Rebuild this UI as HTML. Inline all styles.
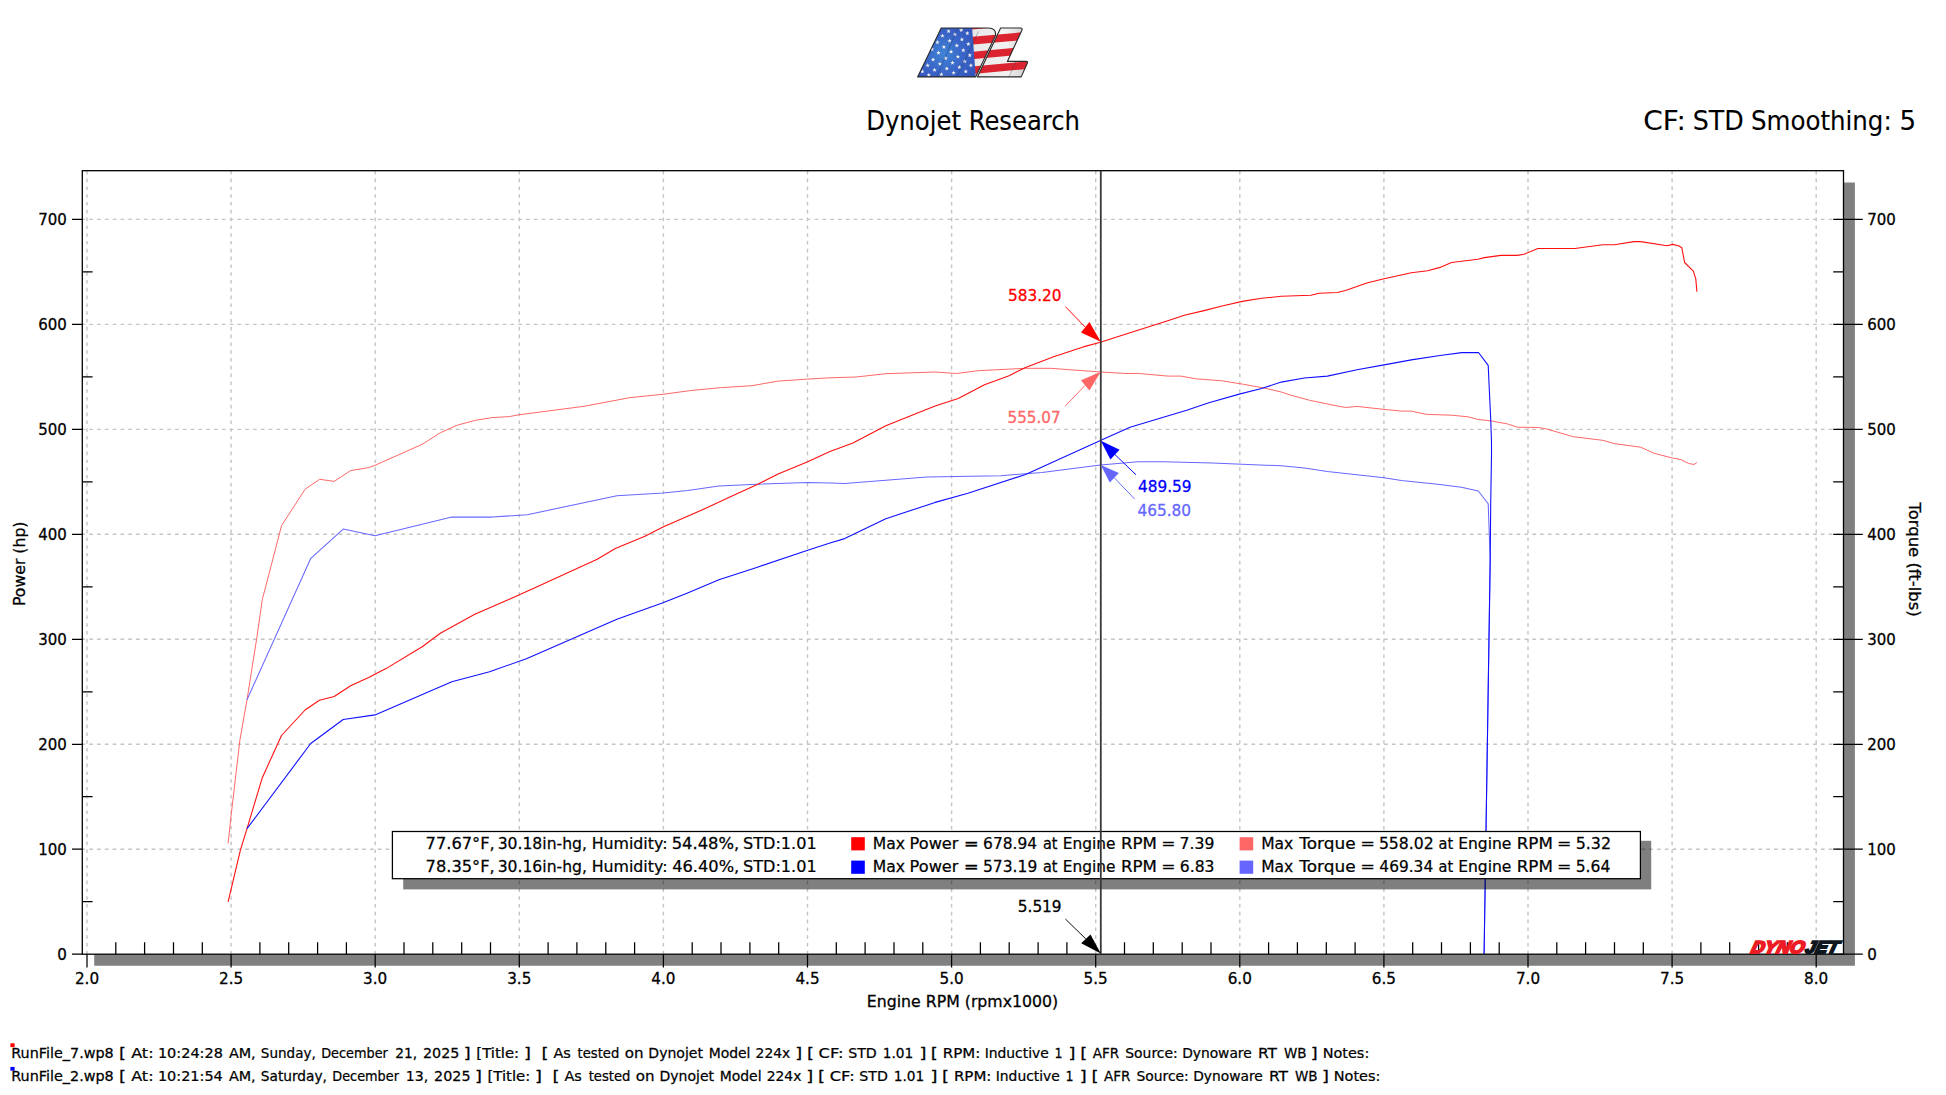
<!DOCTYPE html>
<html lang="en"><head><meta charset="utf-8"><title>Dynojet Research</title>
<style>html,body{margin:0;padding:0;background:#fff;overflow:hidden}svg{display:block}text{font-family:'DejaVu Sans','Liberation Sans',sans-serif;white-space:pre;font-variant-ligatures:none;font-kerning:normal}</style></head><body>
<svg width="1946" height="1095" viewBox="0 0 1946 1095">
<rect width="1946" height="1095" fill="#fff"/>
<defs>
<clipPath id="lc"><path d="M941.2 28 H988.2 Q996.4 28.2 995.6 35.2 L975.6 76.9 H917.6 Z"/><path d="M1000.6 28 H1020.6 Q1022.8 28.2 1021.8 30.4 L1007.4 61.4 H1026.6 Q1028 61.6 1027.4 63 L1021.2 76.9 H977.4 Z"/></clipPath>
<radialGradient id="bg" gradientUnits="userSpaceOnUse" cx="944" cy="54" r="34"><stop offset="0" stop-color="#3f84d4"/><stop offset="0.55" stop-color="#3a66c8"/><stop offset="1" stop-color="#3557bd"/></radialGradient>
<linearGradient id="wg" x1="0" y1="0" x2="1" y2="0"><stop offset="0" stop-color="#f0f0f0"/><stop offset="0.45" stop-color="#e6e6e6"/><stop offset="0.8" stop-color="#f2f2f2"/><stop offset="1" stop-color="#c8c8c8"/></linearGradient>
<polygon id="st" points="0.00,-2.30 0.56,-0.77 2.19,-0.71 0.90,0.29 1.35,1.86 0.00,0.95 -1.35,1.86 -0.90,0.29 -2.19,-0.71 -0.56,-0.77" fill="#f1f1ee"/>
</defs>
<g clip-path="url(#lc)">
<rect x="915" y="26" width="115" height="53" fill="url(#wg)"/>
<g transform="rotate(-5.2 983 52)" fill="#dc2430">
<rect x="960" y="21.0" width="80" height="7.6"/>
<rect x="960" y="35.9" width="80" height="7.7"/>
<rect x="960" y="50.8" width="80" height="7.4"/>
<rect x="960" y="65.4" width="80" height="7.5"/>
<rect x="960" y="80" width="80" height="8.0"/>
</g>
<path d="M910 26 H972 L975.8 78 H910 Z" fill="url(#bg)"/>
<use href="#st" x="948.6" y="31.2"/>
<use href="#st" x="961.2" y="30.1"/>
<use href="#st" x="967.3" y="33.3"/>
<use href="#st" x="942.4" y="35.9"/>
<use href="#st" x="955.0" y="34.4"/>
<use href="#st" x="937.4" y="42.3"/>
<use href="#st" x="949.6" y="40.9"/>
<use href="#st" x="961.9" y="39.5"/>
<use href="#st" x="968.3" y="44.1"/>
<use href="#st" x="943.9" y="47.0"/>
<use href="#st" x="956.8" y="45.6"/>
<use href="#st" x="963.3" y="50.3"/>
<use href="#st" x="938.5" y="52.8"/>
<use href="#st" x="951.1" y="51.7"/>
<use href="#st" x="969.8" y="55.3"/>
<use href="#st" x="957.9" y="56.7"/>
<use href="#st" x="945.7" y="58.2"/>
<use href="#st" x="933.1" y="59.6"/>
<use href="#st" x="964.7" y="61.4"/>
<use href="#st" x="952.5" y="62.8"/>
<use href="#st" x="939.9" y="63.9"/>
<use href="#st" x="927.7" y="65.4"/>
<use href="#st" x="970.9" y="65.4"/>
<use href="#st" x="959.4" y="67.2"/>
<use href="#st" x="946.8" y="68.6"/>
<use href="#st" x="934.5" y="70.0"/>
<use href="#st" x="922.3" y="71.5"/>
<use href="#st" x="965.8" y="71.5"/>
<use href="#st" x="953.6" y="72.9"/>
<use href="#st" x="941.4" y="74.4"/>
<use href="#st" x="928.8" y="75.1"/>
<use href="#st" x="932.0" y="49.2"/>
<path d="M957.8 28 L936.6 77 M978.4 31.5 L956.8 77" stroke="#1a2a5a" stroke-opacity="0.55" stroke-width="0.6" fill="none"/>
<path d="M1016 61.4 L1009 77" stroke="#333" stroke-opacity="0.5" stroke-width="0.6" fill="none"/>
</g>
<path d="M941.2 28 H988.2 Q996.4 28.2 995.6 35.2 L975.6 76.9 H917.6 Z" fill="none" stroke="#2a2a2a" stroke-width="1.1" stroke-linejoin="round"/>
<path d="M1000.6 28 H1020.6 Q1022.8 28.2 1021.8 30.4 L1007.4 61.4 H1026.6 Q1028 61.6 1027.4 63 L1021.2 76.9 H977.4 Z" fill="none" stroke="#2a2a2a" stroke-width="1.1" stroke-linejoin="round"/>
<text transform="translate(866.13,130.0) scale(0.937,1)" font-size="26.0" fill="#000" stroke="#000" stroke-width="0.1">Dynojet</text>
<text transform="translate(968.63,130.0) scale(0.934,1)" font-size="26.0" fill="#000" stroke="#000" stroke-width="0.1">Research</text>
<text transform="translate(1643.27,129.9) scale(1.072,1)" font-size="26.0" fill="#000" stroke="#000" stroke-width="0.1">CF:</text>
<text transform="translate(1692.75,129.9) scale(0.975,1)" font-size="26.0" fill="#000" stroke="#000" stroke-width="0.1">STD</text>
<text transform="translate(1751.01,129.9) scale(0.943,1)" font-size="26.0" fill="#000" stroke="#000" stroke-width="0.1">Smoothing:</text>
<text transform="translate(1899.58,129.9) scale(1.001,1)" font-size="26.0" fill="#000" stroke="#000" stroke-width="0.1">5</text>
<path d="M1843.5 182.5H1854.9V965.7H94.2V954.2H1843.5Z" fill="#808080"/>
<rect x="82.3" y="170.7" width="1761.2" height="783.5" fill="#fff"/>
<path d="M87.00 170.8V954.2M231.10 170.8V954.2M375.20 170.8V954.2M519.30 170.8V954.2M663.40 170.8V954.2M807.50 170.8V954.2M951.60 170.8V954.2M1095.70 170.8V954.2M1239.80 170.8V954.2M1383.90 170.8V954.2M1528.00 170.8V954.2M1672.10 170.8V954.2M1816.20 170.8V954.2M81.5 849.23H1843.5M81.5 744.26H1843.5M81.5 639.29H1843.5M81.5 534.32H1843.5M81.5 429.35H1843.5M81.5 324.38H1843.5M81.5 219.41H1843.5" stroke="#c4c4c4" stroke-width="1.4" stroke-dasharray="3.6 4.2" fill="none"/>
<polyline points="228.1,843.5 231.1,815.5 239.9,740.1 247.0,699.8 256.9,637.3 262.3,599.5 270.0,570.1 281.5,525.7 305.1,489.2 319.7,479.3 334.2,481.4 350.6,470.6 368.7,467.6 375.0,465.3 422.2,444.3 440.3,432.8 456.7,425.4 474.8,420.4 492.1,417.6 509.3,416.6 519.0,414.8 584.0,406.3 630.1,397.6 663.0,394.3 690.9,390.5 720.5,387.7 751.8,385.7 778.1,381.1 807.7,379.1 830.0,377.8 856.2,377.0 885.8,373.7 935.1,372.0 956.5,373.5 977.9,370.7 1025.6,368.3 1050.3,368.3 1099.6,371.9 1125.9,373.5 1138.2,373.4 1167.8,376.1 1181.0,376.1 1195.8,378.8 1222.1,380.8 1243.5,384.3 1264.9,388.2 1281.3,392.0 1291.2,395.3 1309.3,400.2 1327.4,404.0 1345.5,407.5 1357.0,406.4 1384.1,409.4 1401.4,411.1 1411.3,411.1 1426.1,414.3 1440.0,414.8 1451.5,415.2 1468.0,416.8 1477.8,419.4 1491.0,420.9 1507.4,423.9 1517.3,427.2 1538.7,427.5 1546.9,429.1 1573.2,436.7 1602.8,440.3 1614.3,443.6 1640.7,447.2 1653.8,453.2 1672.7,458.1 1681.0,459.6 1688.4,463.4 1694.1,464.5 1696.9,462.5" fill="none" stroke="#ff6868" stroke-width="1.0" stroke-linejoin="round"/>
<polyline points="247.0,699.8 310.8,558.3 343.2,529.1 375.0,535.7 451.8,517.1 492.1,517.1 527.3,514.7 616.9,495.8 663.0,493.0 687.6,490.5 718.9,485.9 756.7,484.2 807.7,482.6 830.0,483.1 844.7,483.5 885.8,480.2 926.9,476.9 1000.9,475.7 1042.0,472.4 1100.4,465.0 1138.2,461.7 1162.9,461.7 1212.2,463.0 1281.3,465.8 1304.3,468.0 1327.4,471.6 1384.1,477.8 1401.4,480.6 1440.0,484.4 1461.4,487.2 1478.3,491.0 1488.2,503.7 1490.2,560.0 1484.1,954.0" fill="none" stroke="#6868ff" stroke-width="1.05" stroke-linejoin="round"/>
<polyline points="228.1,901.9 240.4,850.1 247.0,828.7 262.3,777.7 281.5,735.5 305.1,710.0 319.4,700.3 334.2,696.5 350.6,685.8 368.7,677.6 386.0,668.6 422.2,646.8 440.3,633.2 474.8,614.3 509.3,599.3 530.0,590.1 597.2,559.2 615.3,548.5 644.9,536.2 663.0,527.1 704.1,509.0 735.3,494.6 756.7,484.7 778.1,474.0 807.7,461.7 830.0,451.5 852.9,443.1 885.8,425.8 935.1,406.1 958.2,398.4 984.5,384.7 1009.1,375.7 1025.6,367.4 1053.6,356.7 1083.2,346.9 1100.4,342.3 1130.0,332.8 1167.8,320.8 1184.3,315.2 1204.0,310.6 1222.1,306.0 1243.5,301.1 1261.6,298.3 1281.3,296.3 1310.9,295.3 1319.1,293.3 1337.2,292.5 1345.5,290.5 1366.8,283.0 1384.1,278.8 1411.3,272.8 1427.7,270.8 1440.0,267.4 1451.5,262.5 1477.8,259.2 1484.4,257.6 1500.9,255.4 1517.3,255.4 1523.9,254.3 1537.9,248.5 1574.9,248.5 1602.8,244.7 1614.3,244.7 1634.1,241.6 1640.7,241.6 1667.0,245.7 1672.7,244.4 1678.5,245.7 1681.8,247.7 1684.6,262.5 1693.3,271.1 1695.8,278.9 1696.9,291.8" fill="none" stroke="#ff1010" stroke-width="1.1" stroke-linejoin="round"/>
<polyline points="247.0,828.7 310.7,743.5 343.2,719.5 375.0,714.9 451.8,681.7 489.6,671.8 526.4,658.7 616.9,619.2 663.0,602.8 687.6,592.9 718.9,579.8 756.7,567.4 807.7,550.2 830.0,543.1 844.7,538.6 885.8,518.8 935.1,502.4 968.0,493.3 1025.6,474.4 1100.4,440.6 1130.0,427.2 1186.7,410.3 1208.9,402.7 1240.2,393.9 1261.6,388.5 1281.3,382.1 1304.3,378.0 1327.4,376.1 1357.0,369.8 1384.1,364.9 1411.3,359.9 1440.0,355.5 1461.8,352.6 1478.5,352.5 1488.2,365.4 1489.3,389.3 1490.7,418.9 1491.5,442.0 1491.5,455.1 1490.7,504.5 1490.2,560.0 1484.1,954.0" fill="none" stroke="#1010ff" stroke-width="1.1" stroke-linejoin="round"/>
<rect x="403.2" y="840.8" width="1248" height="48.6" fill="#000" fill-opacity="0.5"/>
<rect x="392.4" y="831.5" width="1248" height="47.2" fill="#fff" stroke="#000" stroke-width="1.25"/>
<text transform="translate(425.56,848.5) scale(0.973,1)" font-size="16.7" fill="#000" stroke="#000" stroke-width="0.25">77.67°F,</text>
<text transform="translate(425.56,872.1) scale(0.973,1)" font-size="16.7" fill="#000" stroke="#000" stroke-width="0.25">78.35°F,</text>
<text transform="translate(497.63,848.5) scale(0.935,1)" font-size="16.7" fill="#000" stroke="#000" stroke-width="0.25">30.18in-hg,</text>
<text transform="translate(497.63,872.1) scale(0.935,1)" font-size="16.7" fill="#000" stroke="#000" stroke-width="0.25">30.16in-hg,</text>
<text transform="translate(591.66,848.5) scale(0.947,1)" font-size="16.7" fill="#000" stroke="#000" stroke-width="0.25">Humidity:</text>
<text transform="translate(591.66,872.1) scale(0.947,1)" font-size="16.7" fill="#000" stroke="#000" stroke-width="0.25">Humidity:</text>
<text transform="translate(671.63,848.5) scale(0.981,1)" font-size="16.7" fill="#000" stroke="#000" stroke-width="0.25">54.48%,</text>
<text transform="translate(672.13,872.1) scale(0.974,1)" font-size="16.7" fill="#000" stroke="#000" stroke-width="0.25">46.40%,</text>
<text transform="translate(743.06,848.5) scale(0.963,1)" font-size="16.7" fill="#000" stroke="#000" stroke-width="0.25">STD:1.01</text>
<text transform="translate(743.06,872.1) scale(0.963,1)" font-size="16.7" fill="#000" stroke="#000" stroke-width="0.25">STD:1.01</text>
<text transform="translate(872.68,848.5) scale(0.935,1)" font-size="16.7" fill="#000" stroke="#000" stroke-width="0.25">Max</text>
<text transform="translate(872.68,872.1) scale(0.935,1)" font-size="16.7" fill="#000" stroke="#000" stroke-width="0.25">Max</text>
<text transform="translate(909.62,848.5) scale(0.967,1)" font-size="16.7" fill="#000" stroke="#000" stroke-width="0.25">Power</text>
<text transform="translate(909.62,872.1) scale(0.967,1)" font-size="16.7" fill="#000" stroke="#000" stroke-width="0.25">Power</text>
<text transform="translate(963.81,848.5) scale(1.078,1)" font-size="16.7" fill="#000" stroke="#000" stroke-width="0.25">=</text>
<text transform="translate(963.81,872.1) scale(1.078,1)" font-size="16.7" fill="#000" stroke="#000" stroke-width="0.25">=</text>
<text transform="translate(983.12,848.5) scale(0.923,1)" font-size="16.7" fill="#000" stroke="#000" stroke-width="0.25">678.94</text>
<text transform="translate(983.00,872.1) scale(0.929,1)" font-size="16.7" fill="#000" stroke="#000" stroke-width="0.25">573.19</text>
<text transform="translate(1042.93,848.5) scale(0.866,1)" font-size="16.7" fill="#000" stroke="#000" stroke-width="0.25">at</text>
<text transform="translate(1042.93,872.1) scale(0.866,1)" font-size="16.7" fill="#000" stroke="#000" stroke-width="0.25">at</text>
<text transform="translate(1062.80,848.5) scale(0.921,1)" font-size="16.7" fill="#000" stroke="#000" stroke-width="0.25">Engine</text>
<text transform="translate(1062.80,872.1) scale(0.921,1)" font-size="16.7" fill="#000" stroke="#000" stroke-width="0.25">Engine</text>
<text transform="translate(1120.88,848.5) scale(0.996,1)" font-size="16.7" fill="#000" stroke="#000" stroke-width="0.25">RPM</text>
<text transform="translate(1120.88,872.1) scale(0.996,1)" font-size="16.7" fill="#000" stroke="#000" stroke-width="0.25">RPM</text>
<text transform="translate(1161.21,848.5) scale(1.021,1)" font-size="16.7" fill="#000" stroke="#000" stroke-width="0.25">=</text>
<text transform="translate(1161.21,872.1) scale(1.021,1)" font-size="16.7" fill="#000" stroke="#000" stroke-width="0.25">=</text>
<text transform="translate(1179.61,848.5) scale(0.936,1)" font-size="16.7" fill="#000" stroke="#000" stroke-width="0.25">7.39</text>
<text transform="translate(1179.81,872.1) scale(0.934,1)" font-size="16.7" fill="#000" stroke="#000" stroke-width="0.25">6.83</text>
<text transform="translate(1261.19,848.5) scale(0.928,1)" font-size="16.7" fill="#000" stroke="#000" stroke-width="0.25">Max</text>
<text transform="translate(1261.19,872.1) scale(0.928,1)" font-size="16.7" fill="#000" stroke="#000" stroke-width="0.25">Max</text>
<text transform="translate(1299.24,848.5) scale(1.013,1)" font-size="16.7" fill="#000" stroke="#000" stroke-width="0.25">Torque</text>
<text transform="translate(1299.24,872.1) scale(1.013,1)" font-size="16.7" fill="#000" stroke="#000" stroke-width="0.25">Torque</text>
<text transform="translate(1360.24,848.5) scale(1.059,1)" font-size="16.7" fill="#000" stroke="#000" stroke-width="0.25">=</text>
<text transform="translate(1360.24,872.1) scale(1.059,1)" font-size="16.7" fill="#000" stroke="#000" stroke-width="0.25">=</text>
<text transform="translate(1378.88,848.5) scale(0.941,1)" font-size="16.7" fill="#000" stroke="#000" stroke-width="0.25">558.02</text>
<text transform="translate(1379.37,872.1) scale(0.921,1)" font-size="16.7" fill="#000" stroke="#000" stroke-width="0.25">469.34</text>
<text transform="translate(1438.53,848.5) scale(0.872,1)" font-size="16.7" fill="#000" stroke="#000" stroke-width="0.25">at</text>
<text transform="translate(1438.53,872.1) scale(0.872,1)" font-size="16.7" fill="#000" stroke="#000" stroke-width="0.25">at</text>
<text transform="translate(1458.19,848.5) scale(0.930,1)" font-size="16.7" fill="#000" stroke="#000" stroke-width="0.25">Engine</text>
<text transform="translate(1458.19,872.1) scale(0.930,1)" font-size="16.7" fill="#000" stroke="#000" stroke-width="0.25">Engine</text>
<text transform="translate(1516.67,848.5) scale(1.003,1)" font-size="16.7" fill="#000" stroke="#000" stroke-width="0.25">RPM</text>
<text transform="translate(1516.67,872.1) scale(1.003,1)" font-size="16.7" fill="#000" stroke="#000" stroke-width="0.25">RPM</text>
<text transform="translate(1557.09,848.5) scale(1.031,1)" font-size="16.7" fill="#000" stroke="#000" stroke-width="0.25">=</text>
<text transform="translate(1557.09,872.1) scale(1.031,1)" font-size="16.7" fill="#000" stroke="#000" stroke-width="0.25">=</text>
<text transform="translate(1575.67,848.5) scale(0.952,1)" font-size="16.7" fill="#000" stroke="#000" stroke-width="0.25">5.32</text>
<text transform="translate(1575.69,872.1) scale(0.933,1)" font-size="16.7" fill="#000" stroke="#000" stroke-width="0.25">5.64</text>
<rect x="851.2" y="837.2" width="13.6" height="13.2" fill="#ff0000"/>
<rect x="851.2" y="860.6" width="13.6" height="13.2" fill="#0000ff"/>
<rect x="1239.6" y="837.2" width="13.6" height="13.2" fill="#ff6666"/>
<rect x="1239.6" y="860.6" width="13.6" height="13.2" fill="#6666ff"/>
<rect x="82.3" y="170.7" width="1761.2" height="783.5" fill="none" stroke="#000" stroke-width="1.3"/>
<path d="M87.0 954.2V967.4M115.8 942.2V954.2M144.6 942.2V954.2M173.5 942.2V954.2M202.3 942.2V954.2M231.1 954.2V967.4M259.9 942.2V954.2M288.7 942.2V954.2M317.6 942.2V954.2M346.4 942.2V954.2M375.2 954.2V967.4M404.0 942.2V954.2M432.8 942.2V954.2M461.7 942.2V954.2M490.5 942.2V954.2M519.3 954.2V967.4M548.1 942.2V954.2M576.9 942.2V954.2M605.8 942.2V954.2M634.6 942.2V954.2M663.4 954.2V967.4M692.2 942.2V954.2M721.0 942.2V954.2M749.9 942.2V954.2M778.7 942.2V954.2M807.5 954.2V967.4M836.3 942.2V954.2M865.1 942.2V954.2M894.0 942.2V954.2M922.8 942.2V954.2M951.6 954.2V967.4M980.4 942.2V954.2M1009.2 942.2V954.2M1038.1 942.2V954.2M1066.9 942.2V954.2M1095.7 954.2V967.4M1124.5 942.2V954.2M1153.3 942.2V954.2M1182.2 942.2V954.2M1211.0 942.2V954.2M1239.8 954.2V967.4M1268.6 942.2V954.2M1297.4 942.2V954.2M1326.3 942.2V954.2M1355.1 942.2V954.2M1383.9 954.2V967.4M1412.7 942.2V954.2M1441.5 942.2V954.2M1470.4 942.2V954.2M1499.2 942.2V954.2M1528.0 954.2V967.4M1556.8 942.2V954.2M1585.6 942.2V954.2M1614.5 942.2V954.2M1643.3 942.2V954.2M1672.1 954.2V967.4M1700.9 942.2V954.2M1729.7 942.2V954.2M1758.6 942.2V954.2M1787.4 942.2V954.2M1816.2 954.2V967.4M72.0 954.2H82.3M1833.2 954.2H1862.8M82.3 901.7H92.6M1833.2 901.7H1843.5M72.0 849.2H82.3M1833.2 849.2H1862.8M82.3 796.7H92.6M1833.2 796.7H1843.5M72.0 744.3H82.3M1833.2 744.3H1862.8M82.3 691.8H92.6M1833.2 691.8H1843.5M72.0 639.3H82.3M1833.2 639.3H1862.8M82.3 586.8H92.6M1833.2 586.8H1843.5M72.0 534.3H82.3M1833.2 534.3H1862.8M82.3 481.8H92.6M1833.2 481.8H1843.5M72.0 429.4H82.3M1833.2 429.4H1862.8M82.3 376.9H92.6M1833.2 376.9H1843.5M72.0 324.4H82.3M1833.2 324.4H1862.8M82.3 271.9H92.6M1833.2 271.9H1843.5M72.0 219.4H82.3M1833.2 219.4H1862.8" stroke="#000" stroke-width="1.25" fill="none"/>
<line x1="1100.8" y1="170.7" x2="1100.8" y2="954.2" stroke="#383838" stroke-width="1.8"/>
<line x1="1065.6" y1="306.8" x2="1085.2" y2="327.1" stroke="#ff0000" stroke-width="0.95"/>
<polygon points="1100.8,341.8 1089.4,321.9 1081.0,332.4" fill="#ff0000"/>
<line x1="1065.0" y1="406.3" x2="1085.2" y2="385.3" stroke="#ff6666" stroke-width="0.95"/>
<polygon points="1100.8,371.8 1081.0,380.2 1089.4,390.4" fill="#ff6666"/>
<line x1="1136.0" y1="474.8" x2="1115.0" y2="454.6" stroke="#0000ff" stroke-width="0.95"/>
<polygon points="1100.8,440.8 1119.6,449.8 1110.4,459.5" fill="#0000ff"/>
<line x1="1134.7" y1="499.1" x2="1114.3" y2="477.8" stroke="#6666ff" stroke-width="0.95"/>
<polygon points="1100.8,465.1 1118.8,473.0 1109.8,482.5" fill="#6666ff"/>
<line x1="1065.4" y1="919.0" x2="1085.8" y2="938.9" stroke="#000000" stroke-width="0.95"/>
<polygon points="1100.8,953.6 1090.5,934.5 1081.2,943.3" fill="#000000"/>
<text x="1008.0" y="300.6" font-size="16.7" fill="#ff0000" stroke="#ff0000" stroke-width="0.3" text-anchor="start" textLength="53.6" lengthAdjust="spacingAndGlyphs">583.20</text>
<text x="1007.6" y="423.4" font-size="16.7" fill="#ff6666" stroke="#ff6666" stroke-width="0.3" text-anchor="start" textLength="53.0" lengthAdjust="spacingAndGlyphs">555.07</text>
<text x="1138.0" y="492.4" font-size="16.7" fill="#0000ff" stroke="#0000ff" stroke-width="0.3" text-anchor="start" textLength="53.6" lengthAdjust="spacingAndGlyphs">489.59</text>
<text x="1137.4" y="515.8" font-size="16.7" fill="#6666ff" stroke="#6666ff" stroke-width="0.3" text-anchor="start" textLength="53.6" lengthAdjust="spacingAndGlyphs">465.80</text>
<text x="1017.8" y="912.4" font-size="16.7" fill="#000" stroke="#000" stroke-width="0.3" text-anchor="start" textLength="43.8" lengthAdjust="spacingAndGlyphs">5.519</text>
<text x="87.0" y="983.5" font-size="16.7" fill="#000" stroke="#000" stroke-width="0.3" text-anchor="middle" textLength="24.2" lengthAdjust="spacingAndGlyphs">2.0</text>
<text x="231.1" y="983.5" font-size="16.7" fill="#000" stroke="#000" stroke-width="0.3" text-anchor="middle" textLength="24.2" lengthAdjust="spacingAndGlyphs">2.5</text>
<text x="375.2" y="983.5" font-size="16.7" fill="#000" stroke="#000" stroke-width="0.3" text-anchor="middle" textLength="24.2" lengthAdjust="spacingAndGlyphs">3.0</text>
<text x="519.3" y="983.5" font-size="16.7" fill="#000" stroke="#000" stroke-width="0.3" text-anchor="middle" textLength="24.2" lengthAdjust="spacingAndGlyphs">3.5</text>
<text x="663.4" y="983.5" font-size="16.7" fill="#000" stroke="#000" stroke-width="0.3" text-anchor="middle" textLength="24.2" lengthAdjust="spacingAndGlyphs">4.0</text>
<text x="807.5" y="983.5" font-size="16.7" fill="#000" stroke="#000" stroke-width="0.3" text-anchor="middle" textLength="24.2" lengthAdjust="spacingAndGlyphs">4.5</text>
<text x="951.6" y="983.5" font-size="16.7" fill="#000" stroke="#000" stroke-width="0.3" text-anchor="middle" textLength="24.2" lengthAdjust="spacingAndGlyphs">5.0</text>
<text x="1095.7" y="983.5" font-size="16.7" fill="#000" stroke="#000" stroke-width="0.3" text-anchor="middle" textLength="24.2" lengthAdjust="spacingAndGlyphs">5.5</text>
<text x="1239.8" y="983.5" font-size="16.7" fill="#000" stroke="#000" stroke-width="0.3" text-anchor="middle" textLength="24.2" lengthAdjust="spacingAndGlyphs">6.0</text>
<text x="1383.9" y="983.5" font-size="16.7" fill="#000" stroke="#000" stroke-width="0.3" text-anchor="middle" textLength="24.2" lengthAdjust="spacingAndGlyphs">6.5</text>
<text x="1528.0" y="983.5" font-size="16.7" fill="#000" stroke="#000" stroke-width="0.3" text-anchor="middle" textLength="24.2" lengthAdjust="spacingAndGlyphs">7.0</text>
<text x="1672.1" y="983.5" font-size="16.7" fill="#000" stroke="#000" stroke-width="0.3" text-anchor="middle" textLength="24.2" lengthAdjust="spacingAndGlyphs">7.5</text>
<text x="1816.2" y="983.5" font-size="16.7" fill="#000" stroke="#000" stroke-width="0.3" text-anchor="middle" textLength="24.2" lengthAdjust="spacingAndGlyphs">8.0</text>
<text x="66.8" y="959.5" font-size="16.7" fill="#000" stroke="#000" stroke-width="0.3" text-anchor="end" textLength="9.6" lengthAdjust="spacingAndGlyphs">0</text>
<text x="1867.2" y="959.5" font-size="16.7" fill="#000" stroke="#000" stroke-width="0.3" text-anchor="start" textLength="9.6" lengthAdjust="spacingAndGlyphs">0</text>
<text x="66.8" y="854.5" font-size="16.7" fill="#000" stroke="#000" stroke-width="0.3" text-anchor="end" textLength="28.6" lengthAdjust="spacingAndGlyphs">100</text>
<text x="1867.2" y="854.5" font-size="16.7" fill="#000" stroke="#000" stroke-width="0.3" text-anchor="start" textLength="28.6" lengthAdjust="spacingAndGlyphs">100</text>
<text x="66.8" y="749.6" font-size="16.7" fill="#000" stroke="#000" stroke-width="0.3" text-anchor="end" textLength="28.6" lengthAdjust="spacingAndGlyphs">200</text>
<text x="1867.2" y="749.6" font-size="16.7" fill="#000" stroke="#000" stroke-width="0.3" text-anchor="start" textLength="28.6" lengthAdjust="spacingAndGlyphs">200</text>
<text x="66.8" y="644.6" font-size="16.7" fill="#000" stroke="#000" stroke-width="0.3" text-anchor="end" textLength="28.6" lengthAdjust="spacingAndGlyphs">300</text>
<text x="1867.2" y="644.6" font-size="16.7" fill="#000" stroke="#000" stroke-width="0.3" text-anchor="start" textLength="28.6" lengthAdjust="spacingAndGlyphs">300</text>
<text x="66.8" y="539.6" font-size="16.7" fill="#000" stroke="#000" stroke-width="0.3" text-anchor="end" textLength="28.6" lengthAdjust="spacingAndGlyphs">400</text>
<text x="1867.2" y="539.6" font-size="16.7" fill="#000" stroke="#000" stroke-width="0.3" text-anchor="start" textLength="28.6" lengthAdjust="spacingAndGlyphs">400</text>
<text x="66.8" y="434.7" font-size="16.7" fill="#000" stroke="#000" stroke-width="0.3" text-anchor="end" textLength="28.6" lengthAdjust="spacingAndGlyphs">500</text>
<text x="1867.2" y="434.7" font-size="16.7" fill="#000" stroke="#000" stroke-width="0.3" text-anchor="start" textLength="28.6" lengthAdjust="spacingAndGlyphs">500</text>
<text x="66.8" y="329.7" font-size="16.7" fill="#000" stroke="#000" stroke-width="0.3" text-anchor="end" textLength="28.6" lengthAdjust="spacingAndGlyphs">600</text>
<text x="1867.2" y="329.7" font-size="16.7" fill="#000" stroke="#000" stroke-width="0.3" text-anchor="start" textLength="28.6" lengthAdjust="spacingAndGlyphs">600</text>
<text x="66.8" y="224.7" font-size="16.7" fill="#000" stroke="#000" stroke-width="0.3" text-anchor="end" textLength="28.6" lengthAdjust="spacingAndGlyphs">700</text>
<text x="1867.2" y="224.7" font-size="16.7" fill="#000" stroke="#000" stroke-width="0.3" text-anchor="start" textLength="28.6" lengthAdjust="spacingAndGlyphs">700</text>
<text x="866.8" y="1006.7" font-size="16.7" fill="#000" stroke="#000" stroke-width="0.3" text-anchor="start" textLength="191.4" lengthAdjust="spacingAndGlyphs">Engine RPM (rpmx1000)</text>
<g transform="translate(24.8,563.8) rotate(-90)">
<text x="0.0" y="0.0" font-size="16.7" fill="#000" stroke="#000" stroke-width="0.3" text-anchor="middle" textLength="84.6" lengthAdjust="spacingAndGlyphs">Power (hp)</text>
</g>
<g transform="translate(1909.3,559.6) rotate(90)">
<text x="0.0" y="0.0" font-size="16.7" fill="#000" stroke="#000" stroke-width="0.3" text-anchor="middle" textLength="114.3" lengthAdjust="spacingAndGlyphs">Torque (ft-lbs)</text>
</g>
<g transform="translate(1750.2,952.9) skewX(-14)" stroke-linejoin="miter">
<text x="0" y="0" font-size="17.2" fill="#ed1c24" stroke="#ed1c24" stroke-width="2" textLength="53" lengthAdjust="spacingAndGlyphs" style="font-family:'Liberation Sans','DejaVu Sans',sans-serif;font-weight:bold;font-style:italic">DYNO</text>
<text x="54.3" y="0" font-size="17.2" fill="#10161e" stroke="#10161e" stroke-width="2" textLength="33" lengthAdjust="spacingAndGlyphs" style="font-family:'Liberation Sans','DejaVu Sans',sans-serif;font-weight:bold;font-style:italic">JET</text>
</g>
<rect x="10.4" y="1043.3" width="4.2" height="3.8" fill="#ff0000"/>
<rect x="10.4" y="1066.9" width="4.2" height="3.8" fill="#0000ff"/>
<text transform="translate(11.20,1057.6) scale(1.006,1)" font-size="14.3" fill="#000" stroke="#000" stroke-width="0.25">RunFile_7.wp8</text>
<text transform="translate(119.08,1057.6) scale(1.247,1)" font-size="14.3" fill="#000" stroke="#000" stroke-width="0.25">[</text>
<text transform="translate(131.18,1057.6) scale(1.123,1)" font-size="14.3" fill="#000" stroke="#000" stroke-width="0.25">At:</text>
<text transform="translate(157.91,1057.6) scale(1.013,1)" font-size="14.3" fill="#000" stroke="#000" stroke-width="0.25">10:24:28</text>
<text transform="translate(228.89,1057.6) scale(1.005,1)" font-size="14.3" fill="#000" stroke="#000" stroke-width="0.25">AM,</text>
<text transform="translate(260.82,1057.6) scale(0.947,1)" font-size="14.3" fill="#000" stroke="#000" stroke-width="0.25">Sunday,</text>
<text transform="translate(321.15,1057.6) scale(0.900,1)" font-size="14.3" fill="#000" stroke="#000" stroke-width="0.25">December</text>
<text transform="translate(395.20,1057.6) scale(0.960,1)" font-size="14.3" fill="#000" stroke="#000" stroke-width="0.25">21,</text>
<text transform="translate(422.96,1057.6) scale(1.002,1)" font-size="14.3" fill="#000" stroke="#000" stroke-width="0.25">2025</text>
<text transform="translate(463.86,1057.6) scale(1.247,1)" font-size="14.3" fill="#000" stroke="#000" stroke-width="0.25">]</text>
<text transform="translate(476.33,1057.6) scale(1.043,1)" font-size="14.3" fill="#000" stroke="#000" stroke-width="0.25">[Title:</text>
<text transform="translate(523.96,1057.6) scale(1.247,1)" font-size="14.3" fill="#000" stroke="#000" stroke-width="0.25">]</text>
<text transform="translate(541.38,1057.6) scale(1.247,1)" font-size="14.3" fill="#000" stroke="#000" stroke-width="0.25">[</text>
<text transform="translate(553.39,1057.6) scale(1.009,1)" font-size="14.3" fill="#000" stroke="#000" stroke-width="0.25">As</text>
<text transform="translate(577.54,1057.6) scale(0.923,1)" font-size="14.3" fill="#000" stroke="#000" stroke-width="0.25">tested</text>
<text transform="translate(624.77,1057.6) scale(1.054,1)" font-size="14.3" fill="#000" stroke="#000" stroke-width="0.25">on</text>
<text transform="translate(648.33,1057.6) scale(0.981,1)" font-size="14.3" fill="#000" stroke="#000" stroke-width="0.25">Dynojet</text>
<text transform="translate(708.64,1057.6) scale(0.975,1)" font-size="14.3" fill="#000" stroke="#000" stroke-width="0.25">Model</text>
<text transform="translate(755.59,1057.6) scale(0.972,1)" font-size="14.3" fill="#000" stroke="#000" stroke-width="0.25">224x</text>
<text transform="translate(795.16,1057.6) scale(1.247,1)" font-size="14.3" fill="#000" stroke="#000" stroke-width="0.25">]</text>
<text transform="translate(806.88,1057.6) scale(1.247,1)" font-size="14.3" fill="#000" stroke="#000" stroke-width="0.25">[</text>
<text transform="translate(818.60,1057.6) scale(1.142,1)" font-size="14.3" fill="#000" stroke="#000" stroke-width="0.25">CF:</text>
<text transform="translate(848.18,1057.6) scale(0.992,1)" font-size="14.3" fill="#000" stroke="#000" stroke-width="0.25">STD</text>
<text transform="translate(882.69,1057.6) scale(0.960,1)" font-size="14.3" fill="#000" stroke="#000" stroke-width="0.25">1.01</text>
<text transform="translate(919.46,1057.6) scale(1.247,1)" font-size="14.3" fill="#000" stroke="#000" stroke-width="0.25">]</text>
<text transform="translate(930.78,1057.6) scale(1.247,1)" font-size="14.3" fill="#000" stroke="#000" stroke-width="0.25">[</text>
<text transform="translate(942.83,1057.6) scale(1.051,1)" font-size="14.3" fill="#000" stroke="#000" stroke-width="0.25">RPM:</text>
<text transform="translate(984.65,1057.6) scale(0.970,1)" font-size="14.3" fill="#000" stroke="#000" stroke-width="0.25">Inductive</text>
<text transform="translate(1054.51,1057.6) scale(0.884,1)" font-size="14.3" fill="#000" stroke="#000" stroke-width="0.25">1</text>
<text transform="translate(1068.56,1057.6) scale(1.247,1)" font-size="14.3" fill="#000" stroke="#000" stroke-width="0.25">]</text>
<text transform="translate(1080.28,1057.6) scale(1.247,1)" font-size="14.3" fill="#000" stroke="#000" stroke-width="0.25">[</text>
<text transform="translate(1092.80,1057.6) scale(0.945,1)" font-size="14.3" fill="#000" stroke="#000" stroke-width="0.25">AFR</text>
<text transform="translate(1125.30,1057.6) scale(0.972,1)" font-size="14.3" fill="#000" stroke="#000" stroke-width="0.25">Source:</text>
<text transform="translate(1182.15,1057.6) scale(0.965,1)" font-size="14.3" fill="#000" stroke="#000" stroke-width="0.25">Dynoware</text>
<text transform="translate(1257.89,1057.6) scale(1.080,1)" font-size="14.3" fill="#000" stroke="#000" stroke-width="0.25">RT</text>
<text transform="translate(1283.96,1057.6) scale(0.943,1)" font-size="14.3" fill="#000" stroke="#000" stroke-width="0.25">WB</text>
<text transform="translate(1310.86,1057.6) scale(1.247,1)" font-size="14.3" fill="#000" stroke="#000" stroke-width="0.25">]</text>
<text transform="translate(1322.69,1057.6) scale(1.011,1)" font-size="14.3" fill="#000" stroke="#000" stroke-width="0.25">Notes:</text>
<text transform="translate(11.20,1080.8) scale(1.006,1)" font-size="14.3" fill="#000" stroke="#000" stroke-width="0.25">RunFile_2.wp8</text>
<text transform="translate(119.08,1080.8) scale(1.247,1)" font-size="14.3" fill="#000" stroke="#000" stroke-width="0.25">[</text>
<text transform="translate(131.18,1080.8) scale(1.123,1)" font-size="14.3" fill="#000" stroke="#000" stroke-width="0.25">At:</text>
<text transform="translate(157.91,1080.8) scale(1.011,1)" font-size="14.3" fill="#000" stroke="#000" stroke-width="0.25">10:21:54</text>
<text transform="translate(228.89,1080.8) scale(1.005,1)" font-size="14.3" fill="#000" stroke="#000" stroke-width="0.25">AM,</text>
<text transform="translate(260.81,1080.8) scale(0.958,1)" font-size="14.3" fill="#000" stroke="#000" stroke-width="0.25">Saturday,</text>
<text transform="translate(332.25,1080.8) scale(0.900,1)" font-size="14.3" fill="#000" stroke="#000" stroke-width="0.25">December</text>
<text transform="translate(405.75,1080.8) scale(0.986,1)" font-size="14.3" fill="#000" stroke="#000" stroke-width="0.25">13,</text>
<text transform="translate(434.06,1080.8) scale(1.002,1)" font-size="14.3" fill="#000" stroke="#000" stroke-width="0.25">2025</text>
<text transform="translate(474.96,1080.8) scale(1.247,1)" font-size="14.3" fill="#000" stroke="#000" stroke-width="0.25">]</text>
<text transform="translate(487.43,1080.8) scale(1.043,1)" font-size="14.3" fill="#000" stroke="#000" stroke-width="0.25">[Title:</text>
<text transform="translate(535.06,1080.8) scale(1.247,1)" font-size="14.3" fill="#000" stroke="#000" stroke-width="0.25">]</text>
<text transform="translate(552.48,1080.8) scale(1.247,1)" font-size="14.3" fill="#000" stroke="#000" stroke-width="0.25">[</text>
<text transform="translate(564.49,1080.8) scale(1.009,1)" font-size="14.3" fill="#000" stroke="#000" stroke-width="0.25">As</text>
<text transform="translate(588.64,1080.8) scale(0.923,1)" font-size="14.3" fill="#000" stroke="#000" stroke-width="0.25">tested</text>
<text transform="translate(635.87,1080.8) scale(1.054,1)" font-size="14.3" fill="#000" stroke="#000" stroke-width="0.25">on</text>
<text transform="translate(659.43,1080.8) scale(0.981,1)" font-size="14.3" fill="#000" stroke="#000" stroke-width="0.25">Dynojet</text>
<text transform="translate(719.74,1080.8) scale(0.975,1)" font-size="14.3" fill="#000" stroke="#000" stroke-width="0.25">Model</text>
<text transform="translate(766.69,1080.8) scale(0.972,1)" font-size="14.3" fill="#000" stroke="#000" stroke-width="0.25">224x</text>
<text transform="translate(806.26,1080.8) scale(1.247,1)" font-size="14.3" fill="#000" stroke="#000" stroke-width="0.25">]</text>
<text transform="translate(817.98,1080.8) scale(1.247,1)" font-size="14.3" fill="#000" stroke="#000" stroke-width="0.25">[</text>
<text transform="translate(829.70,1080.8) scale(1.142,1)" font-size="14.3" fill="#000" stroke="#000" stroke-width="0.25">CF:</text>
<text transform="translate(859.28,1080.8) scale(0.992,1)" font-size="14.3" fill="#000" stroke="#000" stroke-width="0.25">STD</text>
<text transform="translate(893.79,1080.8) scale(0.960,1)" font-size="14.3" fill="#000" stroke="#000" stroke-width="0.25">1.01</text>
<text transform="translate(930.56,1080.8) scale(1.247,1)" font-size="14.3" fill="#000" stroke="#000" stroke-width="0.25">]</text>
<text transform="translate(941.88,1080.8) scale(1.247,1)" font-size="14.3" fill="#000" stroke="#000" stroke-width="0.25">[</text>
<text transform="translate(953.93,1080.8) scale(1.051,1)" font-size="14.3" fill="#000" stroke="#000" stroke-width="0.25">RPM:</text>
<text transform="translate(995.75,1080.8) scale(0.970,1)" font-size="14.3" fill="#000" stroke="#000" stroke-width="0.25">Inductive</text>
<text transform="translate(1065.61,1080.8) scale(0.884,1)" font-size="14.3" fill="#000" stroke="#000" stroke-width="0.25">1</text>
<text transform="translate(1079.66,1080.8) scale(1.247,1)" font-size="14.3" fill="#000" stroke="#000" stroke-width="0.25">]</text>
<text transform="translate(1091.38,1080.8) scale(1.247,1)" font-size="14.3" fill="#000" stroke="#000" stroke-width="0.25">[</text>
<text transform="translate(1103.90,1080.8) scale(0.945,1)" font-size="14.3" fill="#000" stroke="#000" stroke-width="0.25">AFR</text>
<text transform="translate(1136.40,1080.8) scale(0.972,1)" font-size="14.3" fill="#000" stroke="#000" stroke-width="0.25">Source:</text>
<text transform="translate(1193.25,1080.8) scale(0.965,1)" font-size="14.3" fill="#000" stroke="#000" stroke-width="0.25">Dynoware</text>
<text transform="translate(1268.99,1080.8) scale(1.080,1)" font-size="14.3" fill="#000" stroke="#000" stroke-width="0.25">RT</text>
<text transform="translate(1295.06,1080.8) scale(0.943,1)" font-size="14.3" fill="#000" stroke="#000" stroke-width="0.25">WB</text>
<text transform="translate(1321.96,1080.8) scale(1.247,1)" font-size="14.3" fill="#000" stroke="#000" stroke-width="0.25">]</text>
<text transform="translate(1333.79,1080.8) scale(1.011,1)" font-size="14.3" fill="#000" stroke="#000" stroke-width="0.25">Notes:</text>
</svg></body></html>
